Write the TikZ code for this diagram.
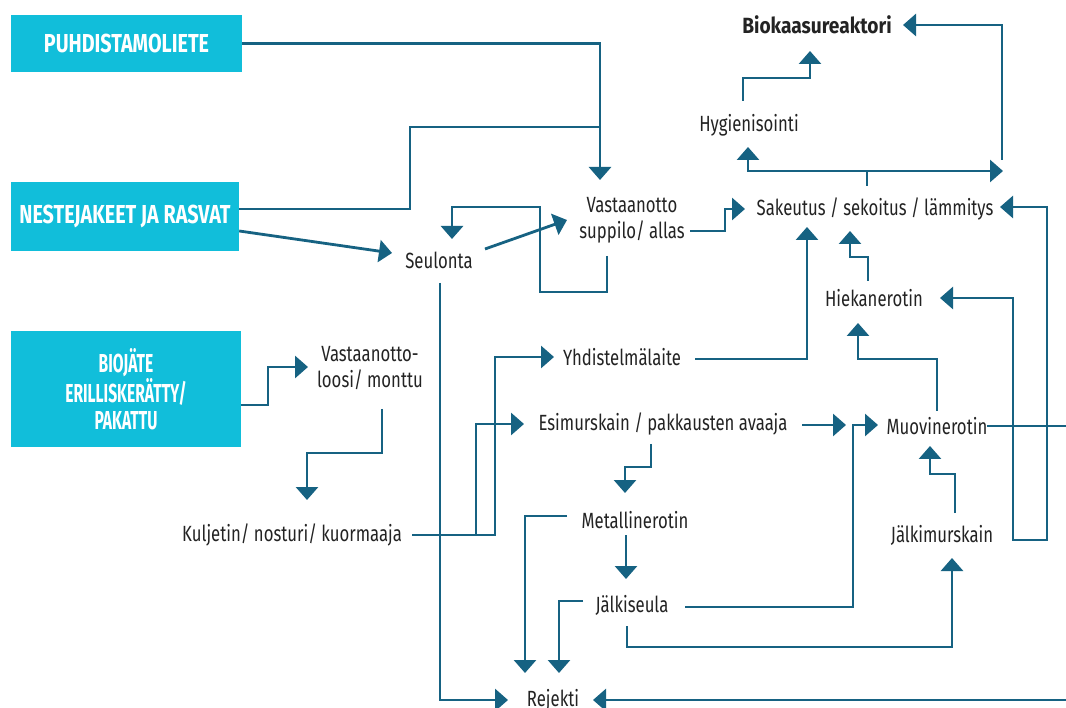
\documentclass[tikz,border=0pt]{standalone}
\usepackage{fontspec}
\setmainfont{Fira Sans}[FakeStretch=0.76]
\newfontfamily\widefont{Fira Sans}[FakeStretch=0.87]
\newfontfamily\narrowfont{Fira Sans}[FakeStretch=0.6]
\usetikzlibrary{arrows.meta}
\definecolor{ln}{RGB}{22,98,130}
\definecolor{cy}{RGB}{17,190,218}
\definecolor{tx}{RGB}{35,35,35}
\begin{document}
\begin{tikzpicture}[x=1pt,y=-1pt,
 lbl/.style={inner sep=0pt, text=tx, font=\fontsize{22}{26}\selectfont, align=center},
 srcbox/.style={fill=cy, text=white, inner sep=0pt, font=\bfseries\fontsize{26}{27}\selectfont, align=center},
 conn/.style={draw=ln, line width=2.8pt},
 arr/.style={conn, -{Triangle[width=22pt,length=13pt]}},
 darr/.style={conn, {Triangle[width=22pt,length=13pt]}-{Triangle[width=22pt,length=13pt]}}]
\useasboundingbox[fill=white] (0,0) rectangle (1066,708);

% source boxes
\node[srcbox, minimum width=231pt, minimum height=57pt] (puh) at (126.5,43.5) {PUHDISTAMOLIETE};
\node[srcbox, minimum width=228pt, minimum height=69pt] (nes) at (125,216.5) {NESTEJAKEET JA RASVAT};
\node[srcbox, minimum width=230pt, minimum height=116pt, font=\narrowfont\bfseries\fontsize{26}{27}\selectfont] (bio) at (126,389) {BIOJÄTE\\ERILLISKERÄTTY/\\PAKATTU};

% process labels
\node[lbl, font=\widefont\bfseries\fontsize{22}{26}\selectfont] (reak) at (817,25) {Biokaasureaktori};
\node[lbl] (hyg) at (749,125) {Hygienisointi};
\node[lbl] (sak) at (875,209) {Sakeutus / sekoitus / lämmitys};
\node[lbl] (vast) at (632,220) {Vastaanotto\\suppilo/ allas};
\node[lbl] (seul) at (439,260) {Seulonta};
\node[lbl] (hiek) at (874,298) {Hiekanerotin};
\node[lbl] (yhd) at (622,357) {Yhdistelmälaite};
\node[lbl] (loosi) at (370,368) {Vastaanotto-\\loosi/ monttu};
\node[lbl] (esi) at (663,424) {Esimurskain / pakkausten avaaja};
\node[lbl] (muov) at (937,426) {Muovinerotin};
\node[lbl] (kulj) at (292,535) {Kuljetin/ nosturi/ kuormaaja};
\node[lbl] (met) at (635,520) {Metallinerotin};
\node[lbl] (jalks) at (632,605) {Jälkiseula};
\node[lbl] (jalkm) at (942,535) {Jälkimurskain};
\node[lbl] (rej) at (553,700) {Rejekti};

% entry / exit points
\coordinate (vastIn) at (600,180);
\coordinate (vastJoin) at (600,127);
\coordinate (vastBot) at (607,256);
\coordinate (vastOut) at (690,231);
\coordinate (seulIn) at (392,253);
\coordinate (seulOut) at (485,249);
\coordinate (vastInL) at (567,220);
\coordinate (seulTop) at (452,239);
\coordinate (seulBot) at (440,283);
\coordinate (rejL) at (508,700);
\coordinate (rejR) at (593,700);
\coordinate (rightB) at (1066,700);
\coordinate (sakIn) at (745,209);
\coordinate (sakTop) at (867,186);
\coordinate (sakSplit) at (867,171);
\coordinate (hygIn) at (748,147);
\coordinate (sakRA) at (1003,171);
\coordinate (sakRB) at (1002,160);
\coordinate (reakIn) at (903,25);
\coordinate (hygTop) at (743,101);
\coordinate (reakBot) at (810,51);
\coordinate (hiekTop) at (868,281);
\coordinate (sakIn2) at (850,231);
\coordinate (yhdOut) at (695,359);
\coordinate (sakIn3) at (807,227);
\coordinate (hiekIn) at (940,298);
\coordinate (sakInR) at (1000,207);
\coordinate (muovOut) at (987,426);
\coordinate (rightM) at (1066,426);
\coordinate (muovTop) at (937,411);
\coordinate (hiekBot) at (858,323);
\coordinate (jalkmTop) at (955,513);
\coordinate (muovBot) at (930,446);
\coordinate (jalksBot) at (627,626);
\coordinate (jalkmBot) at (952,558);
\coordinate (jalksOut) at (685,607);
\coordinate (muovIn) at (878,425);
\coordinate (esiOut) at (802,425);
\coordinate (esiArr) at (846,425);
\coordinate (esiBot) at (651,444);
\coordinate (metTop) at (625,493);
\coordinate (metBot) at (626,535);
\coordinate (jalksTop) at (626,579);
\coordinate (metOut) at (567,516);
\coordinate (rejT1) at (525,673);
\coordinate (jalksL) at (583,601);
\coordinate (rejT2) at (559,673);
\coordinate (kuljOut) at (412,535);
\coordinate (yhdIn) at (554,357);
\coordinate (esiIn) at (524,424);
\coordinate (loosiBot) at (382,409);
\coordinate (kuljTop) at (307,500);
\coordinate (bioOut) at (241,405);
\coordinate (loosiIn) at (308,367);

% connectors
\draw[arr] (puh.east) -| (vastIn);
\draw[conn] (nes.east |- 0,209) -- (410,209) -- (410,127) -- (vastJoin);
\draw[arr] (nes.east |- 0,231) -- (seulIn);
\draw[arr] (seulOut) -- (vastInL);
\draw[arr] (vastBot) -- (607,292) -- (540,292) -- (540,207) -| (seulTop);
\draw[arr] (seulBot) |- (rejL);
\draw[arr] (rightB) -- (rejR);
\draw[arr] (vastOut) -- (725,231) -- (725,209) -- (sakIn);
\draw[arr] (sakTop) -- (sakSplit) -| (hygIn);
\draw[arr] (sakSplit) -- (sakRA);
\draw[arr] (sakRB) |- (reakIn);
\draw[arr] (hygTop) -- (743,78) -| (reakBot);
\draw[arr] (hiekTop) -- (868,257) -| (sakIn2);
\draw[arr] (yhdOut) -| (sakIn3);
\draw[darr] (hiekIn) -- (1013,298) -- (1013,540) -- (1047,540) |- (sakInR);
\draw[conn] (muovOut) -- (rightM);
\draw[arr] (muovTop) -- (937,359) -| (hiekBot);
\draw[arr] (jalkmTop) -- (955,474) -| (muovBot);
\draw[arr] (jalksBot) |- (952,647) -- (jalkmBot);
\draw[arr] (jalksOut) -- (853,607) |- (muovIn);
\draw[arr] (esiOut) -- (esiArr);
\draw[arr] (esiBot) -- (651,467) -| (metTop);
\draw[arr] (metBot) -- (jalksTop);
\draw[arr] (metOut) -| (rejT1);
\draw[arr] (jalksL) -| (rejT2);
\draw[arr] (kuljOut) -- (495,535) |- (yhdIn);
\draw[arr] (476,535) |- (esiIn);
\draw[arr] (loosiBot) |- (307,453) -- (kuljTop);
\draw[arr] (bioOut) -- (268,405) |- (loosiIn);
\end{tikzpicture}
\end{document}
